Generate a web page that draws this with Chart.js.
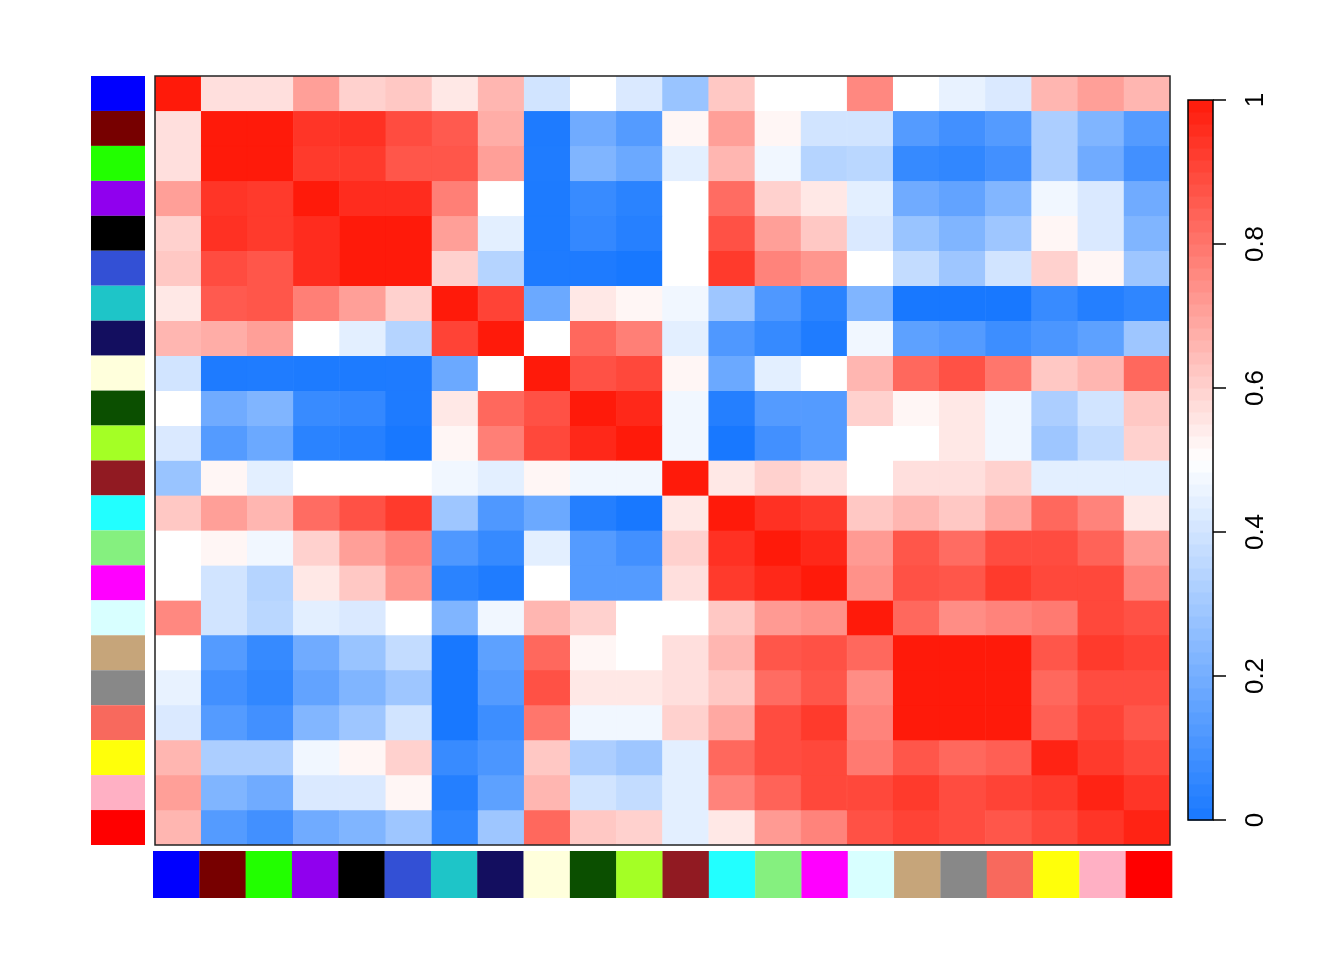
<!DOCTYPE html>
<html>
<head>
<meta charset="utf-8">
<script src="https://cdn.jsdelivr.net/npm/chart.js@4.4.1/dist/chart.umd.min.js"></script>
<style>
  body { margin: 0; background: #fff; }
  #wrap { width: 1344px; height: 960px; }
</style>
</head>
<body>
<div id="wrap"><canvas id="heatChart" width="1344" height="960"></canvas></div>
<script>
// group colours (rows top->bottom, columns left->right)
const groupColors = [
  "#0000FF", "#770000", "#22FF00", "#9000EE", "#000000", "#3350D5",
  "#1EC5C8", "#130E5F", "#FFFFDC", "#0B4F00", "#A4FF25", "#911A22",
  "#22FFFF", "#85F07F", "#FF00FF", "#D8FFFF", "#C6A57A", "#888888",
  "#F8695D", "#FFFF0A", "#FFB0C4", "#FF0000"
];

// upper triangle of the correlation matrix, row i starts at column i
const upper = [
  [1.00, 0.57, 0.57, 0.71, 0.60, 0.62, 0.55, 0.66, 0.40, 0.50, 0.42, 0.28, 0.62, 0.50, 0.50, 0.76, 0.50, 0.45, 0.42, 0.66, 0.71, 0.66],
  [1.00, 1.00, 0.94, 0.95, 0.89, 0.86, 0.68, 0.012, 0.19, 0.13, 0.52, 0.71, 0.52, 0.40, 0.40, 0.13, 0.09, 0.13, 0.32, 0.225, 0.13],
  [1.00, 0.93, 0.93, 0.87, 0.87, 0.71, 0.015, 0.225, 0.18, 0.44, 0.66, 0.47, 0.34, 0.35, 0.065, 0.055, 0.09, 0.32, 0.19, 0.09],
  [1.00, 0.96, 0.96, 0.78, 0.50, 0.01, 0.07, 0.04, 0.50, 0.82, 0.60, 0.55, 0.44, 0.19, 0.16, 0.23, 0.47, 0.42, 0.19],
  [1.00, 1.00, 0.71, 0.44, 0.01, 0.06, 0.03, 0.50, 0.88, 0.71, 0.62, 0.42, 0.28, 0.225, 0.29, 0.52, 0.42, 0.225],
  [1.00, 0.60, 0.34, 0.012, 0.012, 0.00, 0.50, 0.93, 0.77, 0.73, 0.50, 0.37, 0.29, 0.40, 0.60, 0.52, 0.29],
  [1.00, 0.91, 0.18, 0.55, 0.52, 0.47, 0.29, 0.12, 0.04, 0.225, 0.00, 0.00, 0.00, 0.07, 0.025, 0.05],
  [1.00, 0.50, 0.83, 0.78, 0.44, 0.12, 0.065, 0.015, 0.47, 0.15, 0.13, 0.08, 0.11, 0.15, 0.29],
  [1.00, 0.88, 0.90, 0.52, 0.18, 0.44, 0.50, 0.66, 0.83, 0.88, 0.80, 0.62, 0.66, 0.83],
  [1.00, 0.97, 0.47, 0.025, 0.13, 0.13, 0.60, 0.52, 0.55, 0.47, 0.32, 0.40, 0.62],
  [1.00, 0.47, 0.00, 0.09, 0.13, 0.50, 0.50, 0.55, 0.47, 0.29, 0.37, 0.60],
  [1.00, 0.55, 0.60, 0.57, 0.50, 0.57, 0.57, 0.60, 0.44, 0.44, 0.44],
  [1.00, 0.95, 0.93, 0.62, 0.66, 0.62, 0.69, 0.83, 0.77, 0.55],
  [1.00, 0.97, 0.72, 0.87, 0.82, 0.89, 0.89, 0.84, 0.72],
  [1.00, 0.74, 0.88, 0.87, 0.93, 0.90, 0.90, 0.77],
  [1.00, 0.83, 0.75, 0.77, 0.79, 0.90, 0.88],
  [1.00, 1.00, 1.00, 0.87, 0.93, 0.91],
  [1.00, 1.00, 0.83, 0.89, 0.89],
  [1.00, 0.85, 0.91, 0.87],
  [0.98, 0.93, 0.90],
  [0.98, 0.94],
  [0.98]
];

const barTicks = [0, 0.2, 0.4, 0.6, 0.8, 1];
const barTickLabels = ["0", "0.2", "0.4", "0.6", "0.8", "1"];

const n = groupColors.length;
const matrix = [];
for (let i = 0; i < n; i++) {
  matrix.push([]);
  for (let j = 0; j < n; j++) {
    matrix[i].push(j >= i ? upper[i][j - i] : upper[j][i - j]);
  }
}

const lowColor = [24, 120, 255];
const highColor = [255, 26, 10];

function valueColor(v) {
  let from, t;
  if (v < 0.5) { from = lowColor; t = v / 0.5; }
  else { from = highColor; t = (1 - v) / 0.5; }
  const c = from.map(ch => Math.round(ch + (255 - ch) * t));
  return `rgb(${c[0]},${c[1]},${c[2]})`;
}

const datasets = matrix.map((row, i) => ({
  label: "row " + i,
  data: row.map(() => 1),
  backgroundColor: row.map(valueColor),
  borderColor: row.map(valueColor),
  borderWidth: 0.5,
  borderSkipped: false,
  stack: "m",
  barPercentage: 1,
  categoryPercentage: 1,
}));

const decor = {
  id: "decor",
  afterDraw(chart) {
    const { ctx, chartArea: a, scales: { x, y } } = chart;
    const cw = (a.right - a.left) / n;
    ctx.save();
    // plot frame
    ctx.strokeStyle = "#222";
    ctx.lineWidth = 1.5;
    ctx.strokeRect(a.left, a.top, a.right - a.left, a.bottom - a.top);

    // side colour strips
    groupColors.forEach((c, i) => {
      const top = y.getPixelForValue(i);
      const bot = y.getPixelForValue(i + 1);
      ctx.fillStyle = c;
      ctx.fillRect(a.left - 64, top, 54, bot - top);
      const left = a.left + i * cw;
      ctx.fillRect(left - 2 + i * 4 / n, a.bottom + 6, cw + 0.5, 47);
    });

    // colour key
    const kx = a.right + 18, kw = 25, kTop = 100, kBot = 820;
    const steps = 60;
    for (let s = 0; s < steps; s++) {
      const v = (s + 0.5) / steps;
      ctx.fillStyle = valueColor(v);
      const y0 = kBot - (s + 1) * (kBot - kTop) / steps;
      ctx.fillRect(kx, y0, kw, (kBot - kTop) / steps + 0.5);
    }
    ctx.strokeStyle = "#000";
    ctx.lineWidth = 1.5;
    ctx.strokeRect(kx, kTop, kw, kBot - kTop);
    ctx.fillStyle = "#000";
    ctx.font = "26px 'Liberation Sans', Arial, sans-serif";
    ctx.textAlign = "center";
    ctx.textBaseline = "middle";
    barTicks.forEach((t, k) => {
      const py = kBot - t * (kBot - kTop);
      ctx.beginPath();
      ctx.moveTo(kx + kw, py);
      ctx.lineTo(kx + kw + 13, py);
      ctx.stroke();
      ctx.save();
      ctx.translate(kx + kw + 43, py);
      ctx.rotate(-Math.PI / 2);
      ctx.fillText(barTickLabels[k], 0, 0);
      ctx.restore();
    });
    ctx.restore();
  }
};

new Chart(document.getElementById("heatChart"), {
  type: "bar",
  data: { labels: groupColors, datasets: datasets },
  options: {
    responsive: false,
    animation: false,
    devicePixelRatio: 1,
    layout: { padding: { left: 155, right: 174, top: 76, bottom: 115 } },
    plugins: { legend: { display: false }, tooltip: { enabled: false } },
    scales: {
      x: { display: false, stacked: true, offset: true },
      y: { display: false, stacked: true, reverse: true, min: 0, max: n },
    },
  },
  plugins: [decor],
});
</script>
</body>
</html>
